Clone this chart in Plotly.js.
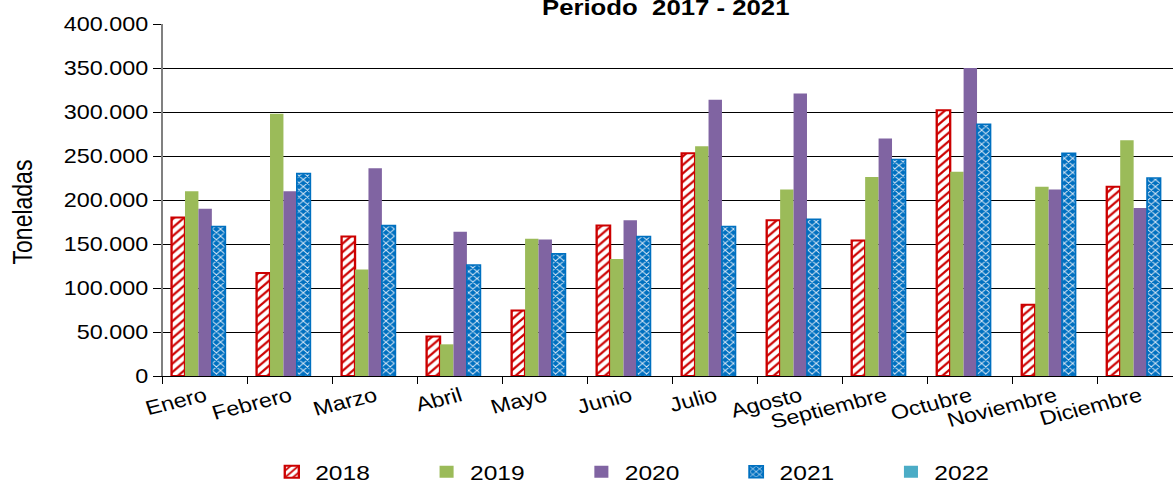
<!DOCTYPE html>
<html>
<head>
<meta charset="utf-8">
<script src="https://cdn.plot.ly/plotly-3.0.1.min.js"></script>
<style>
  html, body { margin: 0; padding: 0; overflow: hidden; background: #fff; width: 1173px; height: 483px; }
  #plot { width: 1013px; height: 483px; transform: scaleX(1.17); transform-origin: 0 0; }
</style>
</head>
<body>
<div id="plot"></div>
<script>
const months = ["Enero","Febrero","Marzo","Abril","Mayo","Junio","Julio","Agosto","Septiembre","Octubre","Noviembre","Diciembre"];
const seriesNames = ["2018","2019","2020","2021","2022"];
const v2018 = [180000,117000,158500,45000,74500,171000,253000,177000,154000,302000,81000,215000];
const v2019 = [210000,298000,121000,36000,156000,133000,261000,212000,226000,232000,215000,268000];
const v2020 = [190000,210000,236000,164000,155000,177000,314000,321000,270000,350000,212000,191000];
const v2021 = [170000,230000,171000,126000,139000,158500,170000,178000,246000,286000,253000,225000];
const v2022 = [null,null,null,null,null,null,null,null,null,null,null,null];
const chartTitle = "<b>Periodo&nbsp;&nbsp;2017 - 2021</b>";
const yTitle = "Toneladas";

const FONT = "Liberation Sans, Arial, sans-serif";

const traces = [
  {name: seriesNames[0], y: v2018, marker: {color: "#ffffff", line: {color: "#CC0000", width: 2},
     pattern: {shape: "/", fgcolor: "#CC0000", bgcolor: "#ffffff", size: 6, solidity: 0.35}}},
  {name: seriesNames[1], y: v2019, marker: {color: "#9BBB59", line: {width: 0}}},
  {name: seriesNames[2], y: v2020, marker: {color: "#8064A2", line: {width: 0}}},
  {name: seriesNames[3], y: v2021, marker: {color: "#0070C0", line: {color: "#0070C0", width: 1.5},
     pattern: {shape: "x", fgcolor: "#dbe9f7", bgcolor: "#0070C0", size: 5, solidity: 0.3}}},
  {name: seriesNames[4], y: v2022, marker: {color: "#4BACC6", line: {width: 0}}}
].map(t => Object.assign({type: "bar", x: months, hoverinfo: "skip"}, t));

const layout = {
  width: 1013, height: 483, autosize: false,
  paper_bgcolor: "#ffffff", plot_bgcolor: "#ffffff",
  font: {family: FONT, color: "#000000", size: 20},
  separators: ",.",
  margin: {l: 138.5, r: 1.5, t: 24, b: 107, pad: 0, autoexpand: false},
  barmode: "group", bargap: 0.21, bargroupgap: 0,
  title: {text: chartTitle, font: {family: FONT, size: 22, color: "#000"},
          x: 569 / 1013, xanchor: "center", xref: "container",
          y: 1 - 15 / 483, yanchor: "bottom", yref: "container"},
  xaxis: {
    type: "category", showgrid: false, showline: true, linecolor: "#000", linewidth: 1,
    ticks: "outside", ticklen: 7, tickcolor: "#000", tickwidth: 1, tickson: "boundaries",
    tickangle: -16, tickfont: {family: FONT, size: 20, color: "#000"}, zeroline: false, automargin: false
  },
  yaxis: {
    range: [0, 400000], dtick: 50000, tick0: 0, tickformat: ",.0f",
    showgrid: true, gridcolor: "#000", gridwidth: 1,
    showline: true, linecolor: "#808080", linewidth: 1.3,
    ticks: "outside", ticklen: 7, tickcolor: "#000", tickwidth: 1,
    ticklabelstandoff: 5.5, zeroline: false, automargin: false,
    tickfont: {family: FONT, size: 20, color: "#000"}
  },
  legend: {
    orientation: "h", x: (257 - 138.5 - 28) / 873, xanchor: "left",
    yref: "container", y: 1 - 472 / 483, yanchor: "middle",
    entrywidth: 87.3, entrywidthmode: "pixels", font: {family: FONT, size: 21, color: "#000"},
    traceorder: "normal", bgcolor: "rgba(0,0,0,0)", borderwidth: 0
  },
  annotations: [{
    text: yTitle, textangle: -90, xref: "paper", yref: "paper",
    x: (18.8 - 138.5) / 873, y: (376 - 212) / 352, xanchor: "center", yanchor: "middle",
    showarrow: false, font: {family: FONT, size: 23, color: "#000"}
  }]
};

Plotly.newPlot("plot", traces, layout, {staticPlot: true, displayModeBar: false});
</script>
</body>
</html>
